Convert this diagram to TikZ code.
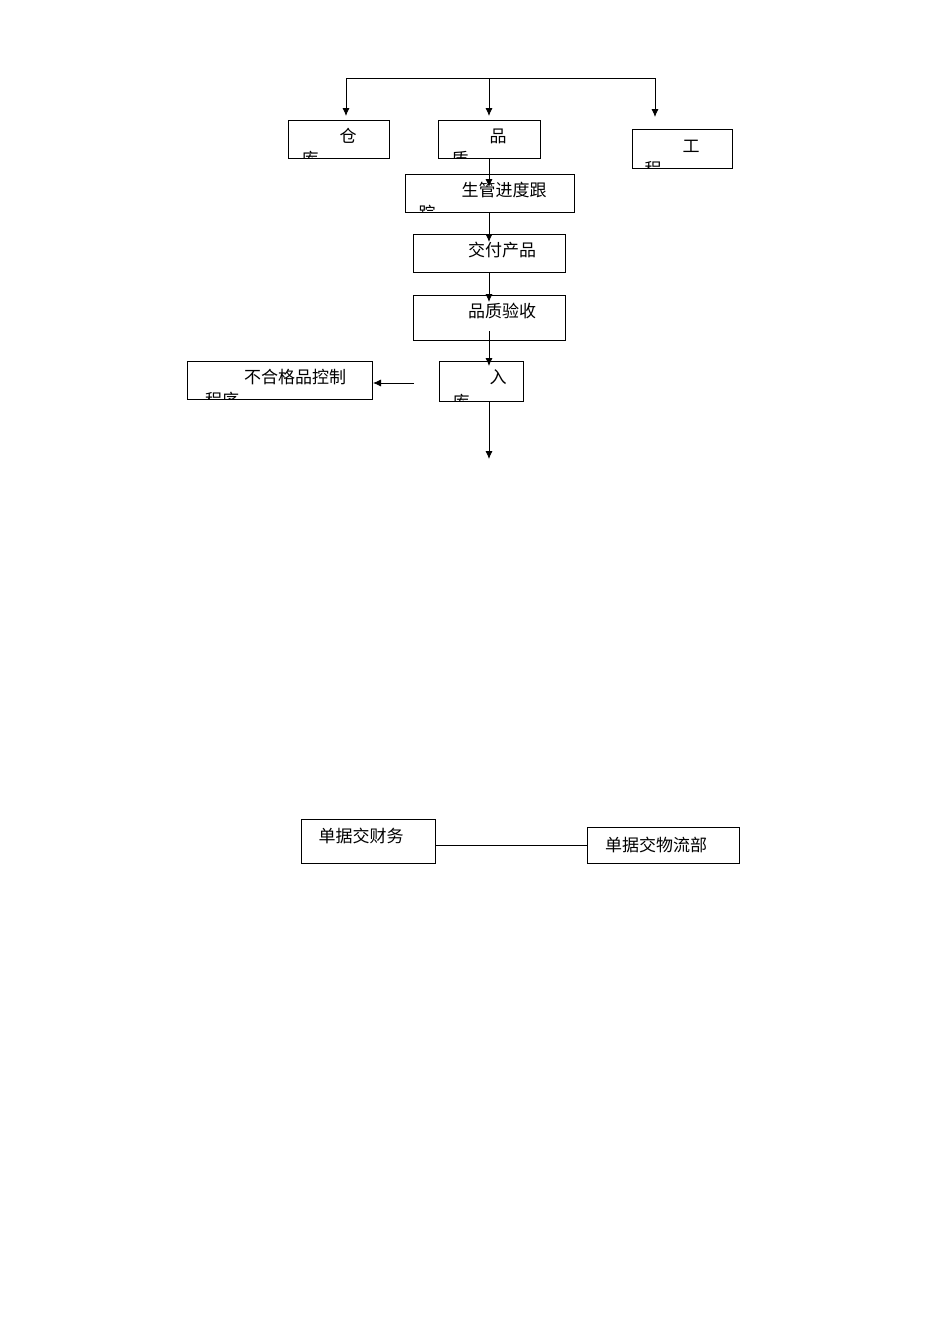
\documentclass[tikz,border=0pt]{standalone}
\usepackage{fontspec}
\newfontfamily\cjk{Noto Sans CJK SC}
\begin{document}
\begin{tikzpicture}[x=1pt,y=-1pt,
  bx/.style={draw,line width=0.8pt},
  tx/.style={font=\cjk\fontsize{17}{17}\selectfont,inner sep=0pt},
  ar/.style={-{Latex[length=8pt,width=7pt]},line width=0.8pt},
  ln/.style={line width=0.8pt}]
\usetikzlibrary{arrows.meta}
\useasboundingbox (0,0) rectangle (950,1344);
\fill[white] (0,0) rectangle (950,1344);
% boxes
\draw[bx] (288,120) rectangle (389,158) coordinate (cangBR);
\node[tx] (cang) at (348,136) {仓};
\begin{scope}\clip (288,120) rectangle (389,158); \node[tx] at (310,159) {库}; \end{scope}
\draw[bx] (438,120) rectangle (540,158);
\node[tx] (pin) at (498,136) {品};
\begin{scope}\clip (438,120) rectangle (540,158); \node[tx] at (460,159) {质}; \end{scope}
\draw[bx] (632,129) rectangle (732,168);
\node[tx] (gong) at (691,146) {工};
\begin{scope}\clip (632,129) rectangle (732,168); \node[tx] at (653,169) {程}; \end{scope}
\draw[bx] (405,174) rectangle (574,212);
\node[tx] (sg) at (504,190) {生管进度跟};
\begin{scope}\clip (405,174) rectangle (574,212); \node[tx] at (427,213) {踪}; \end{scope}
\draw[bx] (413,234) rectangle (565,272);
\node[tx] (jf) at (502,250) {交付产品};
\draw[bx] (413,295) rectangle (565,340);
\node[tx] (pz) at (502,311) {品质验收};
\draw[bx] (439,361) rectangle (523,401);
\node[tx] (ru) at (498,377) {入};
\begin{scope}\clip (439,361) rectangle (523,401); \node[tx] at (461,402) {库}; \end{scope}
\draw[bx] (187,361) rectangle (372,399);
\node[tx] (bh) at (295,377) {不合格品控制};
\begin{scope}\clip (187,361) rectangle (372,399); \node[tx] at (222,400) {程序}; \end{scope}
\draw[bx] (301,819) rectangle (435,863);
\node[tx] (cw) at (361,836) {单据交财务};
\draw[bx] (587,827) rectangle (739,863);
\node[tx] (wl) at (656,845) {单据交物流部};
% connectors
\coordinate (tl) at (346,78); \coordinate (tm) at (489,78); \coordinate (tr) at (655,78);
\draw[ln] (tl) -- (tr);
\draw[ar] (tl) -- (346,116);
\draw[ar] (tm) -- (489,116);
\draw[ar] (tr) -- (655,117);
\draw[ar] (489,158) -- (489,187);
\draw[ar] (489,212) -- (489,242);
\draw[ar] (489,272) -- (489,302);
\draw[ar] (489,331) -- (489,366);
\draw[ar] (489,401) -- (489,459);
\draw[ar] (414,383) -- (373,383);
\draw[ln] (435,845) -- (587,845);
\end{tikzpicture}
\end{document}
